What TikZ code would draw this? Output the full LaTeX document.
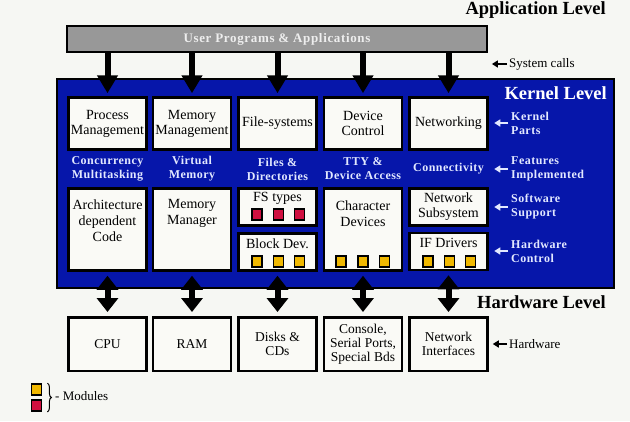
\documentclass[tikz,border=0pt]{standalone}
\usepackage{fontspec}
\setmainfont{Liberation Serif}
\usepackage{tikz}
\usetikzlibrary{arrows.meta,positioning,decorations.pathreplacing}

\definecolor{kernblue}{RGB}{6,22,170}
\definecolor{paper}{RGB}{246,247,243}
\definecolor{boxfill}{RGB}{250,250,246}
\definecolor{barfill}{RGB}{152,152,152}
\definecolor{bartext}{RGB}{238,238,238}
\definecolor{featcol}{RGB}{226,232,255}
\definecolor{modred}{RGB}{208,16,64}
\definecolor{modyellow}{RGB}{240,184,0}

\begin{document}
\begin{tikzpicture}[x=1pt,y=-1pt,
	level/.style={inner sep=0pt,font=\bfseries\fontsize{18.5}{20}\selectfont},
	appbar/.style={draw=black,line width=1.8pt,fill=barfill,text=bartext,minimum width=420pt,minimum height=26pt,inner sep=0pt,font=\bfseries\fontsize{13}{15}\selectfont\addfontfeatures{LetterSpace=5}},
	kernel/.style={draw=black,line width=2pt,fill=kernblue,minimum width=557pt,minimum height=209pt,inner sep=0pt},
	part/.style={draw=black,line width=2.5pt,fill=boxfill,minimum width=78pt,inner sep=0pt,align=center,font=\fontsize{14}{15}\selectfont},
	txt/.style={inner sep=0pt,align=center,font=\fontsize{14}{16}\selectfont},
	hw/.style={draw=black,line width=2.5pt,fill=boxfill,minimum width=78pt,minimum height=53.5pt,inner sep=0pt,align=center,font=\fontsize{13.5}{14}\selectfont},
	feat/.style={inner sep=0pt,align=center,text=featcol,font=\bfseries\fontsize{12}{14}\selectfont\addfontfeatures{LetterSpace=4}},
	side/.style={inner sep=0pt,anchor=west,align=left,text=featcol,font=\bfseries\fontsize{12}{14}\selectfont\addfontfeatures{LetterSpace=4}},
	note/.style={inner sep=0pt,anchor=west,font=\fontsize{13}{14}\selectfont},
	modr/.style={draw=black,line width=1.8pt,fill=modred,minimum width=10pt,minimum height=11pt,inner sep=0pt},
	mody/.style={modr,fill=modyellow},
	callarr/.style={line width=6pt,-{Triangle[length=18pt,width=20pt]},shorten >=3pt},
	hwarr/.style={line width=6pt,{Triangle[length=14pt,width=21pt]}-{Triangle[length=14pt,width=21pt]},shorten <=4pt,shorten >=4pt},
	sidearr/.style={draw=featcol,line width=2pt,-{Triangle[length=6pt,width=7pt]},shorten <=3pt,shorten >=5.5pt},
	notearr/.style={line width=2pt,-{Triangle[length=6pt,width=7pt]},shorten <=2pt,shorten >=4pt}
	]
	% Background and size
	\fill[paper] (0,0) rectangle (630,421);
	\useasboundingbox (0,0) rectangle (630,421);
	% Level titles
	\node[level,anchor=east] (applvl) at (606,10) {Application Level};
	\node[level,anchor=east] (hwlvl) at (606,302) {Hardware Level};
	% User programs
	\node[appbar] (apps) at (277,39) {User Programs \& Applications};
	\node[note] (calls) at (509,64) {System calls};
	\draw[notearr] (calls.west) -- (calls.west -| apps.east);
	% Kernel area
	\node[kernel] (kern) at (335.5,183.5) {};
	\node[level,anchor=east,text=white] (kernlvl) at (607,93) {Kernel Level};
	% Kernel parts
	\node[part,minimum height=52pt] (proc) at (107.5,123.5) {Process\\Management};
	\node[part,minimum height=52pt] (mem) at (192,123.5) {Memory\\Management};
	\node[part,minimum height=52pt] (fs) at (277.5,123.5) {File-systems};
	\node[part,minimum height=52pt] (dev) at (363,123.5) {Device\\Control};
	\node[part,minimum height=52pt] (net) at (448.5,123.5) {Networking};
	% Features implemented
	\node[feat] (conc) at (107.5,169) {Concurrency\\Multitasking};
	\node[feat] (virt) at (192,169) {Virtual\\Memory};
	\node[feat] (files) at (277.5,169) {Files \&\\Directories};
	\node[feat] (tty) at (363,169) {TTY \&\\Device Access};
	\node[feat] (conn) at (448.5,169) {Connectivity};
	% Software support and hardware control
	\node[part,minimum height=82pt] (arch) at (107.5,229.5) {};
	\node[txt] (archtxt) at (107.5,221) {Architecture\\dependent\\Code};
	\node[part,minimum height=82pt] (mman) at (192,229.5) {};
	\node[txt] (mmantxt) at (192,213) {Memory\\Manager};
	\node[part,minimum height=37pt] (fstypes) at (277.5,207) {};
	\node[txt] (fstxt) at (277.5,198) {FS types};
	\node[part,minimum height=37pt] (blkdev) at (277.5,252) {};
	\node[txt] (blktxt) at (277.5,243.5) {Block Dev.};
	\node[part,minimum height=82pt] (chr) at (363,229.5) {};
	\node[txt] (chrtxt) at (363,213.5) {Character\\Devices};
	\node[part,minimum height=37pt] (netsub) at (448.5,207) {Network\\Subsystem};
	\node[part,minimum height=37pt] (ifdrv) at (448.5,251.5) {};
	\node[txt] (iftxt) at (448.5,243) {IF Drivers};
	% Modules
	\node[modr] (fsm1) at (257,214.5) {};
	\node[modr] (fsm2) at (278.5,214.5) {};
	\node[modr] (fsm3) at (299.5,214.5) {};
	\node[mody] (blkm1) at (257,261.5) {};
	\node[mody] (blkm2) at (278.5,261.5) {};
	\node[mody] (blkm3) at (299.5,261.5) {};
	\node[mody] (chrm1) at (341,261.5) {};
	\node[mody] (chrm2) at (363,261.5) {};
	\node[mody] (chrm3) at (384.5,261.5) {};
	\node[mody] (ifm1) at (428,261.5) {};
	\node[mody] (ifm2) at (449.5,261.5) {};
	\node[mody] (ifm3) at (470.5,261.5) {};
	% Labels on the right
	\node[side] (partslbl) at (511,123) {Kernel\\Parts};
	\node[side] (featlbl) at (511,169) {Features\\Implemented};
	\node[side] (swlbl) at (511,207) {Software\\Support};
	\node[side] (ctllbl) at (511,251) {Hardware\\Control};
	\draw[sidearr] (partslbl.west) -- (partslbl.west -| net.east);
	\draw[sidearr] (featlbl.west) -- (featlbl.west -| net.east);
	\draw[sidearr] (swlbl.west) -- (swlbl.west -| net.east);
	\draw[sidearr] (ctllbl.west) -- (ctllbl.west -| net.east);
	% System calls
	\draw[callarr] (apps.south -| proc.north) -- (proc.north);
	\draw[callarr] (apps.south -| mem.north) -- (mem.north);
	\draw[callarr] (apps.south -| fs.north) -- (fs.north);
	\draw[callarr] (apps.south -| dev.north) -- (dev.north);
	\draw[callarr] (apps.south -| net.north) -- (net.north);
	% Hardware
	\node[hw] (cpu) at (107.5,344) {CPU};
	\node[hw] (ram) at (192,344) {RAM};
	\node[hw] (disks) at (277.5,344) {Disks \&\\CDs};
	\node[hw] (cons) at (363,344) {Console,\\Serial Ports,\\Special Bds};
	\node[hw] (netif) at (448.5,344) {Network\\Interfaces};
	\node[note] (hwnote) at (509,344) {Hardware};
	\draw[notearr] (hwnote.west) -- (hwnote.west -| netif.east);
	\draw[hwarr] (arch.south) -- (cpu.north);
	\draw[hwarr] (mman.south) -- (ram.north);
	\draw[hwarr] (blkdev.south) -- (disks.north);
	\draw[hwarr] (chr.south) -- (cons.north);
	\draw[hwarr] (ifdrv.south) -- (netif.north);
	% Legend
	\node[mody] (legy) at (36.5,389.5) {};
	\node[modr] (legr) at (36.5,405.5) {};
	\draw[line width=1pt,decorate,decoration={brace,amplitude=4pt}] ([xshift=5pt]legy.north east) -- ([xshift=5pt]legr.south east);
	\node[note] (modlbl) at (55,396) {- Modules};
\end{tikzpicture}
\end{document}
